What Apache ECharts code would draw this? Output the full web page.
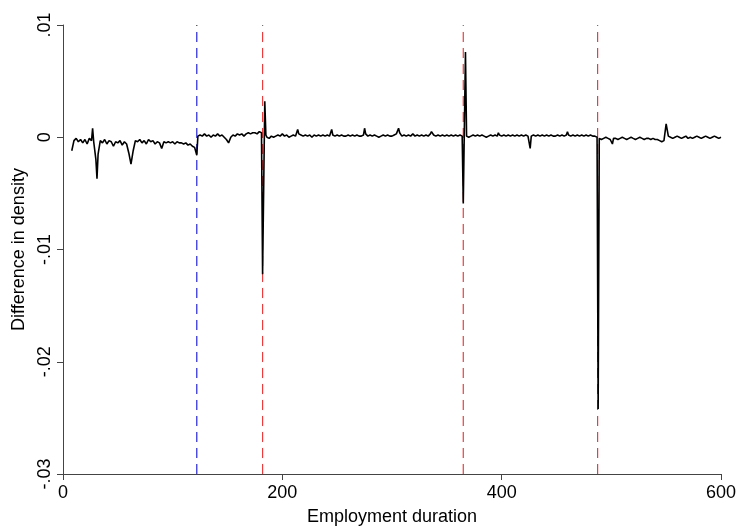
<!DOCTYPE html>
<html>
<head>
<meta charset="utf-8">
<script src="https://cdn.jsdelivr.net/npm/echarts@6/dist/echarts.min.js"></script>
<style>
  html, body { margin: 0; padding: 0; background: #fff; }
  #chart { width: 739px; height: 531px; }
</style>
</head>
<body>
<div id="chart"></div>
<script>
// difference in density, in units of 1e-4
// [employment duration (days), difference]
const diffPoints = [
  [8,-12],[10,-3],[12,-1],[14,-4],[16,-2],[18,-5],[20,-2],[22,-6],[24,-1],[26,-3],
  [27,8],[28,-4],[30,-20],[31,-37],[32,-15],[34,-3],[36,-5],[38,-2],[40,-6],[42,-3],
  [44,-4],[46,-8],[48,-4],[50,-5],[52,-3],[54,-7],[56,-4],[58,-6],[60,-14],[62,-24],
  [64,-12],[66,-3],[68,-4],[70,-2],[72,-5],[74,-3],[76,-6],[78,-2],[80,-4],[82,-3],
  [84,-6],[86,-4],[88,-5],[90,-10],[92,-4],[94,-5],[96,-4],[98,-5],[100,-4],[102,-6],
  [104,-4],[106,-5],[108,-5],[110,-6],[112,-5],[114,-7],[116,-6],[118,-8],[120,-9],
  [121,-10],[122,-16],[123,1],
  [125,2],[127,1],[129,3],[131,1],[133,2],[135,0],[137,2],[139,1],[141,3],[143,1],
  [145,2],[147,0],[149,-2],[151,-5],[153,0],[155,2],[157,1],[159,3],[161,2],[163,3],
  [165,1],[167,3],[169,4],[171,3],[173,4],[175,4],[177,3],[179,5],[181,4],
  [182,-122],[184,32],[185,2],
  [186,0],[188,-1],[190,1],[192,0],[194,1],[196,2],[198,1],[200,3],[202,1],[204,2],
  [206,0],[208,1],[210,2],[212,1],[214,7],[215,3],[217,2],[219,1],[221,2],[223,1],
  [225,2],[227,0],[229,2],[231,1],[233,2],[235,1],[237,2],[239,1],[241,2],[243,1],
  [244,2],[245,7],[246,2],[248,1],[250,2],[252,1],[254,2],[256,1],[258,1],[260,2],
  [262,1],[264,2],[266,1],[268,2],[270,1],[272,1],[274,2],[275,8],[276,3],[278,1],
  [280,2],[282,1],[284,2],[286,1],[288,0],[290,1],[292,2],[294,1],[296,2],[298,1],
  [300,1],[302,2],[304,3],[306,8],[307,4],[309,1],[311,2],[313,1],[315,2],[317,1],
  [319,3],[321,1],[323,2],[325,1],[327,2],[329,1],[331,2],[333,1],[335,3],[336,5],
  [338,2],[340,1],[342,2],[344,1],[346,2],[348,1],[350,2],[352,1],[354,2],[356,1],
  [358,2],[360,1],[362,2],[364,1],
  [365,-59],[367,76],[368,1],
  [370,0],[372,1],[374,2],[376,1],[378,2],[380,1],[382,2],[384,1],[386,0],[388,1],
  [390,2],[392,1],[394,2],[396,1],[397,4],[398,2],[400,1],[402,2],[404,1],[406,2],
  [408,1],[410,2],[412,1],[414,2],[416,1],[418,2],[420,1],[422,2],[424,1],[425,1],
  [426,-10],[427,1],[429,2],[431,1],[433,2],[435,1],[437,2],[439,1],[441,2],[443,1],
  [445,2],[447,1],[449,1],[451,2],[453,1],[455,2],[457,1],[459,2],[460,5],[461,2],
  [463,1],[465,2],[467,1],[469,2],[471,1],[473,2],[475,1],[477,2],[479,1],[481,2],
  [483,1],[485,1],[487,0],
  [488,-242],[489,-1],
  [491,-2],[493,-1],[495,0],[497,-1],[499,-2],[501,-6],[502,-1],[504,-1],[506,-2],
  [508,-1],[510,0],[512,-1],[514,-2],[516,-1],[518,0],[520,-1],[522,-2],[524,-1],
  [526,0],[528,-1],[530,-2],[532,-1],[534,-1],[536,-2],[538,-1],[540,-2],[542,-2],
  [544,-3],[546,-4],[548,-3],[550,12],[551,12],[552,1],[554,0],[556,-1],[558,0],
  [560,1],[562,0],[564,-1],[566,0],[568,1],[570,-1],[572,0],[574,-1],[576,0],
  [578,1],[580,0],[582,-1],[584,0],[586,1],[588,0],[590,-1],[592,0],[594,1],
  [596,0],[598,-1],[600,0]
];

// reference lines (days)
const blueLines = [122];
const redLines = [182, 365, 487.5];

const yTicks = [-0.03, 0.01, 0.01]; // min, max, interval
const xTicks = [0, 600, 200];

function fmtY(v) {
  const r = Math.round(v * 100) / 100;
  if (r === 0) return '0';
  return r.toFixed(2).replace(/^(-?)0\./, '$1.');
}

const font = 'Liberation Sans, Arial, sans-serif';
const axisColor = '#444';

const chart = echarts.init(document.getElementById('chart'));

// dashed vertical guide line spanning the whole y range
function guideSeries(x, color) {
  return {
    type: 'line',
    z: 1,
    silent: true,
    showSymbol: false,
    symbol: 'none',
    data: [[x, yTicks[0]], [x, yTicks[1]]],
    itemStyle: { color: color },
    lineStyle: { color: color, type: [10, 6], width: 1.2 }
  };
}

chart.setOption({
  animation: false,
  backgroundColor: '#fff',
  grid: { left: 63, right: 13, top: 25, bottom: 51, containLabel: false },
  xAxis: {
    type: 'value',
    min: xTicks[0], max: xTicks[1], interval: xTicks[2],
    name: 'Employment duration',
    nameLocation: 'middle',
    nameGap: 34,
    nameTextStyle: { color: '#000', fontSize: 18, fontFamily: font },
    axisLine: { onZero: false, lineStyle: { color: axisColor, width: 1 } },
    axisTick: { length: 6, lineStyle: { color: axisColor } },
    axisLabel: { color: '#000', fontSize: 18, fontFamily: font, margin: 10 },
    splitLine: { show: false }
  },
  yAxis: {
    type: 'value',
    min: yTicks[0], max: yTicks[1], interval: yTicks[2],
    name: 'Difference in density',
    nameLocation: 'middle',
    nameGap: 34,
    nameTextStyle: { color: '#000', fontSize: 18, fontFamily: font },
    axisLine: { show: true, lineStyle: { color: axisColor, width: 1 } },
    axisTick: { show: true, length: 6, lineStyle: { color: axisColor } },
    axisLabel: { color: '#000', fontSize: 18, fontFamily: font, rotate: 90, margin: 9, formatter: fmtY },
    splitLine: { show: false }
  },
  series: [
    ...blueLines.map(x => guideSeries(x, '#2323dd')),
    ...redLines.map(x => guideSeries(x, '#ee3b3b')),
    {
      type: 'line',
      z: 3,
      data: diffPoints.map(p => [p[0], p[1] / 10000]),
      showSymbol: false,
      symbol: 'none',
      itemStyle: { color: '#000' },
      lineStyle: { color: '#000', width: 1.6 }
    }
  ]
});
</script>
</body>
</html>
